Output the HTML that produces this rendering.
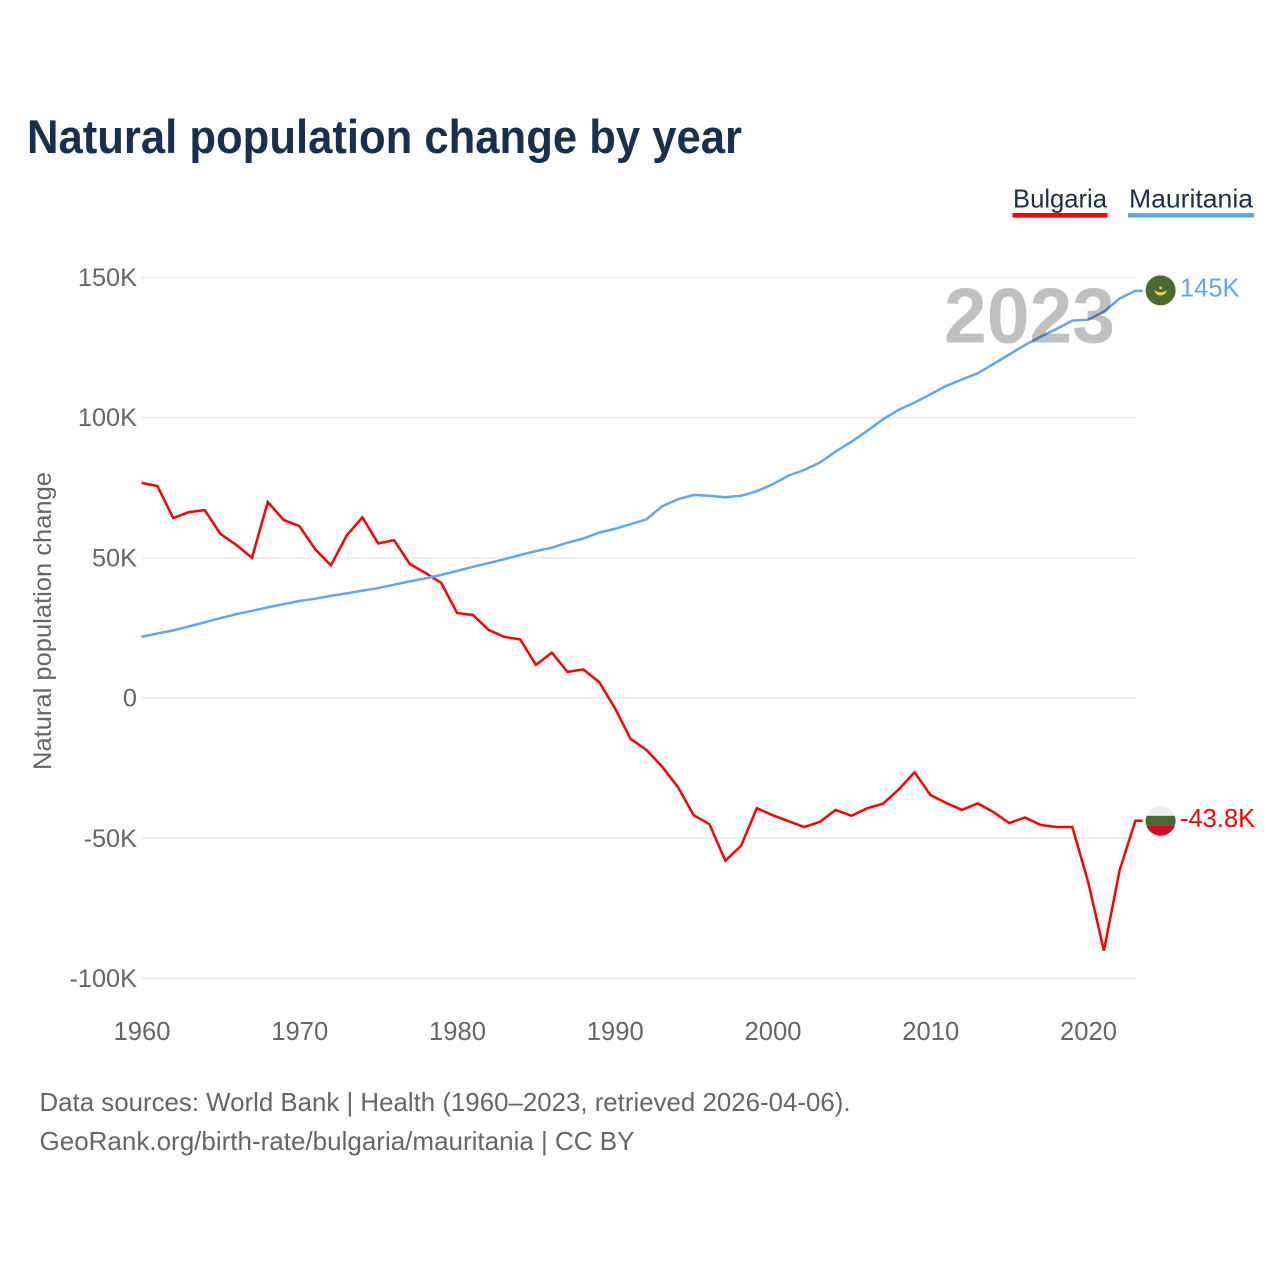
<!DOCTYPE html>
<html lang="en">
<head>
<meta charset="utf-8">
<title>Natural population change by year</title>
<style>
html,body{margin:0;padding:0;background:#fff;width:1280px;height:1280px;overflow:hidden}
svg{display:block;font-family:"Liberation Sans",Arial,sans-serif}
</style>
</head>
<body>
<svg id="chart" xmlns="http://www.w3.org/2000/svg" width="1280" height="1280" viewBox="0 0 1280 1280">
  <defs>
    <clipPath id="flag-clip-bg"><circle id="clip-bg" cx="1160.6" cy="820.6" r="15"></circle></clipPath>
  </defs>
  <rect width="1280" height="1280" fill="#fff"></rect>
  <text x="27" y="153" font-size="47" font-weight="700" fill="#18304f" textLength="715" lengthAdjust="spacingAndGlyphs">Natural population change by year</text>

  <g>
    <text x="1013" y="207.5" font-size="26" fill="#18304f" textLength="94" lengthAdjust="spacingAndGlyphs">Bulgaria</text>
    <rect x="1012.5" y="213" width="95" height="4.6" fill="#ff0000"></rect>
  </g>
  <g>
    <text x="1129" y="207.5" font-size="26" fill="#18304f" textLength="124" lengthAdjust="spacingAndGlyphs">Mauritania</text>
    <rect x="1128" y="213" width="126" height="4.6" fill="#5fa8eb"></rect>
  </g>

  <g id="grid"></g>
  <g id="y-labels"></g>
  <g id="x-labels"></g>
  <text transform="translate(51,621) rotate(-90)" text-anchor="middle" font-size="25" fill="#666" textLength="298" lengthAdjust="spacingAndGlyphs">Natural population change</text>

  <g id="series"></g>

  <text id="year-watermark" x="944" y="342.5" font-size="78" font-weight="700" fill="#c0c0c0" textLength="171" lengthAdjust="spacingAndGlyphs" style="mix-blend-mode:multiply">2023</text>

  <g id="flag-mr">
    <circle id="flag-mr-bg" cx="1160.6" cy="290" r="15" fill="#4b6b2e"></circle>
    <path id="flag-mr-crescent" d="M1154.6 289.5 A6 5.6 0 0 0 1166.6 289.5 A6.6 4 0 0 1 1154.6 289.5 Z" fill="#f2d345"></path>
    <circle id="flag-mr-star" cx="1160.6" cy="287.5" r="1.4" fill="#f2d345"></circle>
  </g>
  <g id="flag-bg" clip-path="url(#flag-clip-bg)">
    <rect id="flag-bg-white" x="1145" y="805" width="32" height="11" fill="#eeeeee"></rect>
    <rect id="flag-bg-green" x="1145" y="815.8" width="32" height="10" fill="#4b6b2e"></rect>
    <rect id="flag-bg-red" x="1145" y="825.7" width="32" height="11" fill="#d8002a"></rect>
  </g>

  <text id="end-label-mr" x="1180" y="297" font-size="25.5" fill="#5fa8eb"></text>
  <text id="end-label-bg" x="1180" y="827" font-size="25.5" fill="#ff0000"></text>

  <text x="39.5" y="1111" font-size="26" fill="#666" textLength="811" lengthAdjust="spacingAndGlyphs">Data sources: World Bank | Health (1960–2023, retrieved 2026-04-06).</text>
  <text x="39.5" y="1150" font-size="26" fill="#666" textLength="595" lengthAdjust="spacingAndGlyphs">GeoRank.org/birth-rate/bulgaria/mauritania | CC BY</text>
</svg>

<script>
var startYear = 1960;
var bulgariaValues = [76.7,75.6,64.2,66.3,67,58.5,54.6,50,69.9,63.5,61.3,53.1,47.3,58,64.4,55.1,56.3,47.8,44.6,41,30.3,29.6,24.3,21.8,20.9,11.8,16.2,9.3,10.2,5.7,-3.6,-14.6,-18.5,-24.5,-31.8,-41.8,-45,-58,-52.7,-39.3,-41.8,-43.9,-46,-44.2,-39.9,-42,-39.3,-37.7,-32.6,-26.5,-34.6,-37.4,-39.9,-37.6,-40.7,-44.6,-42.6,-45.3,-46,-46,-65.5,-90.1,-61.3,-43.8];
var mauritaniaValues = [21.8,23,24.1,25.5,27,28.5,29.9,31.1,32.3,33.5,34.6,35.4,36.4,37.3,38.3,39.2,40.4,41.6,42.7,43.9,45.3,46.8,48.1,49.5,51,52.4,53.6,55.4,56.9,59,60.3,62,63.7,68.4,70.9,72.4,72.1,71.6,72.1,73.7,76.2,79.3,81.3,84,87.9,91.4,95.3,99.4,102.8,105.4,108.3,111.3,113.6,115.8,119.1,122.5,125.9,128.9,131.6,134.6,134.9,137.8,142.5,145.2];
var yTickValues = [150,100,50,0,-50,-100];
var yTickLabels = ["150K","100K","50K","0","-50K","-100K"];
var xTickYears = [1960,1970,1980,1990,2000,2010,2020];

var SVGNS = "http://www.w3.org/2000/svg";
function xScale(year){ return 141.6 + (year - 1960) * 15.775; }
function yScale(v){ return 698 - v * 2.804; }
function make(tag, parent){
  var el = document.createElementNS(SVGNS, tag);
  parent.appendChild(el);
  return el;
}
function formatEnd(v){
  return (Math.abs(v) >= 100 ? Math.round(v) : Math.round(v * 10) / 10) + "K";
}

var gridG = document.getElementById("grid");
var yLabelG = document.getElementById("y-labels");
yTickValues.forEach(function(v, i){
  var line = make("line", gridG);
  
  
  line.setAttribute("x1", 142);
  line.setAttribute("x2", 1136);
  line.setAttribute("y1", yScale(v));
  line.setAttribute("y2", yScale(v));
  line.setAttribute("stroke", "#e9e9e9");
  line.setAttribute("stroke-width", "1.4");
  var t = make("text", yLabelG);
  
  
  t.setAttribute("x", 137);
  t.setAttribute("y", yScale(v) + 8.6);
  t.setAttribute("text-anchor", "end");
  t.setAttribute("font-size", "25.3");
  t.setAttribute("fill", "#666");
  t.textContent = yTickLabels[i];
});

var xLabelG = document.getElementById("x-labels");
xTickYears.forEach(function(yr){
  var t = make("text", xLabelG);
  
  
  t.setAttribute("x", xScale(yr) + 0.4);
  t.setAttribute("y", 1040);
  t.setAttribute("text-anchor", "middle");
  t.setAttribute("font-size", "25.6");
  t.setAttribute("fill", "#666");
  t.textContent = yr;
});

function drawSeries(values, color){
  var g = document.getElementById("series");
  var pts = values.map(function(v, i){ return xScale(startYear + i).toFixed(1) + "," + yScale(v).toFixed(1); });
  var lastV = values[values.length - 1];
  var lastX = xScale(startYear + values.length - 1);
  pts.push((lastX + 7).toFixed(1) + "," + yScale(lastV).toFixed(1));
  var p = make("polyline", g);
  
  
  p.setAttribute("points", pts.join(" "));
  p.setAttribute("fill", "none");
  p.setAttribute("stroke", color);
  p.setAttribute("stroke-width", "2.5");
  p.setAttribute("stroke-linejoin", "miter");
}
drawSeries(bulgariaValues, "#ff0000");
drawSeries(mauritaniaValues, "#5fa8eb");

var lastBg = bulgariaValues[bulgariaValues.length - 1];
var lastMr = mauritaniaValues[mauritaniaValues.length - 1];
document.getElementById("end-label-bg").textContent = formatEnd(lastBg);
document.getElementById("end-label-mr").textContent = formatEnd(lastMr);
document.getElementById("end-label-bg").setAttribute("y", yScale(lastBg) + 6);
document.getElementById("end-label-mr").setAttribute("y", yScale(lastMr) + 5.5);
document.getElementById("flag-mr").setAttribute("transform", "translate(0," + (yScale(lastMr) - 290 - 0.5).toFixed(1) + ")");
document.getElementById("clip-bg").setAttribute("cy", (yScale(lastBg)).toFixed(1));
document.getElementById("year-watermark").textContent = startYear + bulgariaValues.length - 1;
</script>
</body>
</html>
